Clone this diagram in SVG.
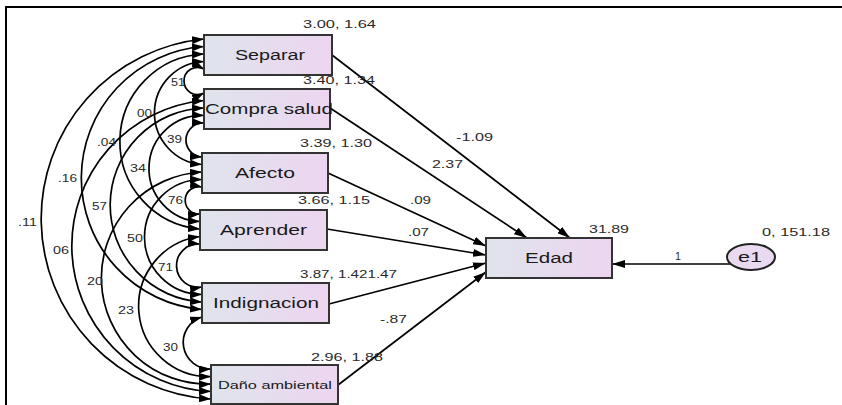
<svg xmlns="http://www.w3.org/2000/svg" width="842" height="405" viewBox="0 0 842 405">
<defs>
<linearGradient id="boxfill" x1="0" y1="0" x2="1" y2="0">
<stop offset="0" stop-color="#dfe4ec"/>
<stop offset="1" stop-color="#edd5f0"/>
</linearGradient>
<marker id="ah" viewBox="0 0 13 8" refX="13" refY="4" markerWidth="13" markerHeight="8" markerUnits="userSpaceOnUse" orient="auto-start-reverse">
<path d="M0,0 L13,4 L0,8 z" fill="#000"/>
</marker>
<marker id="ahs" viewBox="0 0 12 8" refX="12" refY="4" markerWidth="12" markerHeight="8" markerUnits="userSpaceOnUse" orient="auto-start-reverse">
<path d="M0,0 L12,4 L0,8 z" fill="#000"/>
</marker>
</defs>
<style>
.box{fill:url(#boxfill);stroke:#333;stroke-width:2}
.nl{font-family:"Liberation Sans",Arial,sans-serif;font-size:14px;fill:#1a1a1a}
.sm{font-family:"Liberation Sans",Arial,sans-serif;font-size:11px;fill:#2a2a2a}
.arc{fill:none;stroke:#000;stroke-width:1.7;marker-start:url(#ahs);marker-end:url(#ahs)}
.dir{fill:none;stroke:#000;stroke-width:1.7;marker-end:url(#ah)}
.frame{stroke:#000;stroke-width:2;fill:none}
</style>
<rect width="842" height="405" fill="#fff"/>
<path class="frame" d="M6,405 L6,7 L842,7"/>

<g id="connectors">
<path class="arc" d="M204,69 A13.6,13.6 0 1 0 204,93"/>
<path class="arc" d="M204,61.5 A51.6,51.6 0 0 0 202,164.5"/>
<path class="arc" d="M204,54 A87.7,87.7 0 0 0 200,229"/>
<path class="arc" d="M204,46.5 A131.9,131.9 0 0 0 202,309.5"/>
<path class="arc" d="M204,39 A180.6,180.6 0 0 0 211,399"/>
<path class="arc" d="M204,123 A17,17 0 1 0 202,157"/>
<path class="arc" d="M204,115.5 A53,53 0 0 0 200,221.5"/>
<path class="arc" d="M204,108 A97.1,97.1 0 0 0 202,302"/>
<path class="arc" d="M204,100.5 A145.9,145.9 0 0 0 211,391.5"/>
<path class="arc" d="M202,187 A13.7,13.7 0 1 0 200,214"/>
<path class="arc" d="M202,179.5 A57.5,57.5 0 0 0 202,294.5"/>
<path class="arc" d="M202,172 A106.1,106.1 0 0 0 211,384"/>
<path class="arc" d="M200,244 A21.7,21.7 0 1 0 202,287"/>
<path class="arc" d="M200,236.5 A70.3,70.3 0 0 0 211,376.5"/>
<path class="arc" d="M202,317 A26.6,26.6 0 0 0 211,369"/>

<path class="dir" d="M332,55 L570,238"/>
<path class="dir" d="M330,108 L527,238"/>
<path class="dir" d="M328,173 L486,246"/>
<path class="dir" d="M327,229 L486,255"/>
<path class="dir" d="M329,304 L486,263"/>
<path class="dir" d="M338,385 L486,272"/>
<path class="dir" d="M731,264 L612,264"/>

<text class="sm" x="171" y="86" textLength="14" lengthAdjust="spacingAndGlyphs">51</text>
<text class="sm" x="137" y="117" textLength="15" lengthAdjust="spacingAndGlyphs">00</text>
<text class="sm" x="97" y="146" textLength="19" lengthAdjust="spacingAndGlyphs">.04</text>
<text class="sm" x="58" y="182" textLength="19" lengthAdjust="spacingAndGlyphs">.16</text>
<text class="sm" x="18" y="226" textLength="19" lengthAdjust="spacingAndGlyphs">.11</text>
<text class="sm" x="167" y="143" textLength="15" lengthAdjust="spacingAndGlyphs">39</text>
<text class="sm" x="130" y="172" textLength="16" lengthAdjust="spacingAndGlyphs">34</text>
<text class="sm" x="92" y="210" textLength="15" lengthAdjust="spacingAndGlyphs">57</text>
<text class="sm" x="53" y="254" textLength="16" lengthAdjust="spacingAndGlyphs">06</text>
<text class="sm" x="168" y="204" textLength="15" lengthAdjust="spacingAndGlyphs">76</text>
<text class="sm" x="127" y="242" textLength="16" lengthAdjust="spacingAndGlyphs">50</text>
<text class="sm" x="87" y="285" textLength="16" lengthAdjust="spacingAndGlyphs">20</text>
<text class="sm" x="158" y="271" textLength="15" lengthAdjust="spacingAndGlyphs">71</text>
<text class="sm" x="118" y="314" textLength="16" lengthAdjust="spacingAndGlyphs">23</text>
<text class="sm" x="163" y="351" textLength="15" lengthAdjust="spacingAndGlyphs">30</text>

<text class="sm" x="456" y="141" textLength="37" lengthAdjust="spacingAndGlyphs">-1.09</text>
<text class="sm" x="432" y="168" textLength="31" lengthAdjust="spacingAndGlyphs">2.37</text>
<text class="sm" x="410" y="204" textLength="21" lengthAdjust="spacingAndGlyphs">.09</text>
<text class="sm" x="408" y="236" textLength="21" lengthAdjust="spacingAndGlyphs">.07</text>
<text class="sm" x="380" y="323" textLength="27" lengthAdjust="spacingAndGlyphs">-.87</text>
<text class="sm" x="675" y="260" textLength="6" lengthAdjust="spacingAndGlyphs">1</text>
</g>

<g id="separar">
<rect class="box" x="204" y="35" width="128" height="40"/>
<text class="nl" x="270" y="60" text-anchor="middle" textLength="70" lengthAdjust="spacingAndGlyphs">Separar</text>
<text class="sm" x="303" y="28" textLength="73" lengthAdjust="spacingAndGlyphs">3.00, 1.64</text>
</g>
<g id="compra-salud">
<rect class="box" x="204" y="89" width="126" height="40"/>
<text class="nl" x="269" y="114" text-anchor="middle" textLength="128" lengthAdjust="spacingAndGlyphs">Compra salud</text>
<text class="sm" x="303" y="83.5" textLength="72" lengthAdjust="spacingAndGlyphs">3.40, 1.34</text>
</g>
<g id="afecto">
<rect class="box" x="202" y="153" width="126" height="40"/>
<text class="nl" x="265" y="178" text-anchor="middle" textLength="60" lengthAdjust="spacingAndGlyphs">Afecto</text>
<text class="sm" x="300" y="147" textLength="72" lengthAdjust="spacingAndGlyphs">3.39, 1.30</text>
</g>
<g id="aprender">
<rect class="box" x="200" y="210" width="127" height="40"/>
<text class="nl" x="263.5" y="235" text-anchor="middle" textLength="87" lengthAdjust="spacingAndGlyphs">Aprender</text>
<text class="sm" x="298" y="203.5" textLength="72" lengthAdjust="spacingAndGlyphs">3.66, 1.15</text>
</g>
<g id="indignacion">
<rect class="box" x="202" y="283" width="127" height="40"/>
<text class="nl" x="266" y="308" text-anchor="middle" textLength="106" lengthAdjust="spacingAndGlyphs">Indignacion</text>
<text class="sm" x="300" y="278" textLength="97" lengthAdjust="spacingAndGlyphs">3.87, 1.421.47</text>
</g>
<g id="dano-ambiental">
<rect class="box" x="211" y="365" width="127" height="39"/>
<text class="nl" x="275" y="389" text-anchor="middle" textLength="114" lengthAdjust="spacingAndGlyphs" style="font-size:11px">Daño ambiental</text>
<text class="sm" x="311" y="361" textLength="72" lengthAdjust="spacingAndGlyphs">2.96, 1.88</text>
</g>
<g id="edad">
<rect class="box" x="486" y="238" width="126" height="40"/>
<text class="nl" x="549" y="263" text-anchor="middle" textLength="48" lengthAdjust="spacingAndGlyphs">Edad</text>
<text class="sm" x="589" y="232.5" textLength="40" lengthAdjust="spacingAndGlyphs">31.89</text>
</g>
<g id="e1">
<ellipse cx="751" cy="257" rx="24" ry="13" fill="#e9d9f1" stroke="#222" stroke-width="2"/>
<text class="nl" x="750" y="262" text-anchor="middle" textLength="24" lengthAdjust="spacingAndGlyphs">e1</text>
<text class="sm" x="762" y="236" textLength="68" lengthAdjust="spacingAndGlyphs">0, 151.18</text>
</g>
</svg>
